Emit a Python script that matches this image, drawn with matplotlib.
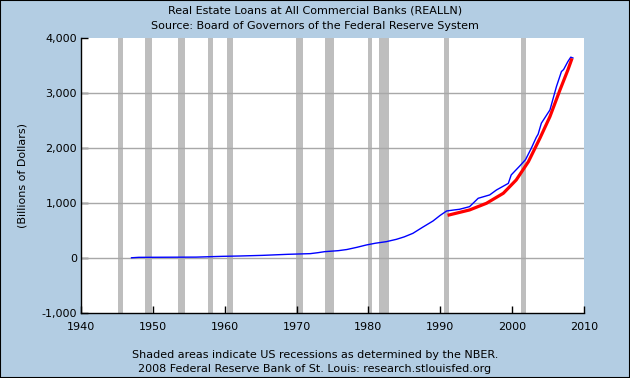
import matplotlib
matplotlib.use('agg')
import matplotlib.pyplot as plt
import matplotlib.patches as mpatches
from matplotlib.ticker import FuncFormatter

# loans, billions of dollars
loan_years = [1947.0, 1948.0, 1952.0, 1956.0, 1959.6, 1962.0, 1965.3, 1968.8,
              1971.9, 1973.0, 1973.9, 1975.8, 1977.0, 1978.4, 1979.7, 1981.0,
              1982.5, 1983.9, 1985.0, 1986.2, 1987.5, 1989.0, 1990.0, 1990.9,
              1992.0, 1992.7, 1994.1, 1995.3, 1996.9, 1997.85, 1999.5, 1999.9,
              2001.1, 2001.9, 2002.7, 2003.4, 2003.65, 2004.1, 2005.3, 2006.2,
              2006.9, 2007.2, 2007.8, 2008.2, 2008.5]
loan_values = [10, 18, 20, 22, 36, 42, 54, 73,
               85, 103, 121, 139, 160, 200, 242, 275,
               303, 345, 390, 454, 560, 678, 780, 860,
               880, 891, 939, 1091, 1152, 1242, 1362, 1515,
               1679, 1794, 2000, 2200, 2255, 2455, 2697, 3120,
               3394, 3430, 3576, 3655, 3640]

# fitted trend
trend_years = [1991.25, 1994.1, 1996.45, 1998.8, 2000.6, 2002.3, 2003.9,
               2005.3, 2006.7, 2007.8, 2008.3]
trend_values = [788, 879, 1000, 1182, 1424, 1757, 2182, 2576, 3061, 3424, 3606]

# NBER recessions (start, end)
recessions = [(1945.1, 1945.8), (1948.9, 1949.8), (1953.5, 1954.4),
              (1957.6, 1958.3), (1960.3, 1961.1), (1969.9, 1970.9),
              (1973.9, 1975.2), (1980.0, 1980.5), (1981.5, 1982.9),
              (1990.5, 1991.2), (2001.2, 2001.9)]

bg = '#b3cde3'
fontsize = 8

fig = plt.figure(figsize=(6.3, 3.78), dpi=100, facecolor=bg)
ax = fig.add_axes([0.129, 0.171, 0.7975, 0.728])
ax.set_facecolor('white')

for start, end in recessions:
    ax.axvspan(start, end, color='#bebebe', lw=0, zorder=1)

for yv in [0, 1000, 2000, 3000]:
    ax.axhline(yv, color='#a8a8a8', lw=1, zorder=2)

ax.plot(loan_years, loan_values, color='#0000ff', lw=1, zorder=3)
ax.plot(trend_years, trend_values, color='#ff0000', lw=2.3, zorder=4)

ax.set_xlim(1940, 2010)
ax.set_ylim(-1000, 4000)
ax.set_xticks(range(1940, 2011, 10))
ax.set_yticks(range(-1000, 4001, 1000))
ax.yaxis.set_major_formatter(FuncFormatter(lambda v, p: '{:,}'.format(int(v)).replace('\u2212', '-')))
ax.tick_params(direction='in', length=5, width=1, color='black',
               labelsize=fontsize, pad=3)
ax.tick_params(axis='x', pad=6)
for side in ['top', 'right']:
    ax.spines[side].set_visible(False)
for side in ['left', 'bottom']:
    ax.spines[side].set_linewidth(1)
ax.set_ylabel('(Billions of Dollars)', fontsize=fontsize, labelpad=10)

fig.text(0.5, 0.973, 'Real Estate Loans at All Commercial Banks (REALLN)',
         ha='center', va='center', fontsize=fontsize)
fig.text(0.5, 0.930, 'Source: Board of Governors of the Federal Reserve System',
         ha='center', va='center', fontsize=fontsize)
fig.text(0.5, 0.062, 'Shaded areas indicate US recessions as determined by the NBER.',
         ha='center', va='center', fontsize=fontsize)
fig.text(0.5, 0.025, '2008 Federal Reserve Bank of St. Louis: research.stlouisfed.org',
         ha='center', va='center', fontsize=fontsize)

fig.patches.append(mpatches.Rectangle((0, 0), 1, 1, transform=fig.transFigure,
                                      fill=False, edgecolor='black', lw=1.5))

fig.savefig('out.png', dpi=100, facecolor=bg)
